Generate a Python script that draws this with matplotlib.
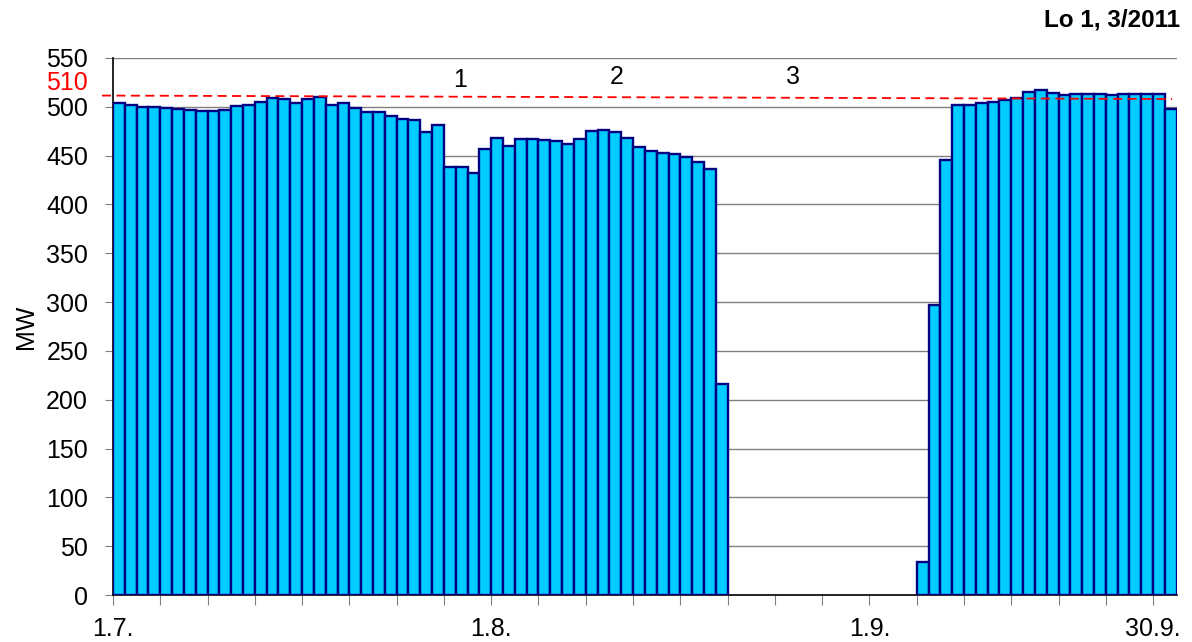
import numpy as np
import matplotlib
matplotlib.use("Agg")
import matplotlib.pyplot as plt

plt.rcParams['font.family'] = ['Liberation Sans', 'DejaVu Sans']

# daily output (MW), one bar per category, gap = outage (no bars)
mw_part1 = [504, 502, 500, 500, 499, 498, 497, 496, 496, 497,
            501, 502, 505, 509, 508, 504, 508, 510, 502, 504,
            499, 495, 495, 491, 487, 486, 474, 481, 438, 438,
            432, 457, 468, 460, 467, 467, 466, 465, 462, 467,
            475, 476, 474, 468, 459, 455, 453, 452, 449, 443,
            436, 216]
mw_gap = [np.nan] * 16
mw_part2 = [34, 297, 446, 502, 502, 504, 505, 507, 509, 515,
            517, 514, 512, 513, 513, 513, 512, 513, 513, 513,
            513, 498]
mw = np.array(mw_part1 + mw_gap + mw_part2, dtype=float)

x_labels = {0: '1.7.', 32: '1.8.', 64: '1.9.', 88: '30.9.'}
limit_x = [-0.93, 89.6]
limit_y = [511.5, 508.0]
markers = [('1', 29.4, 527), ('2', 42.6, 531), ('3', 57.5, 531)]

fig = plt.figure(figsize=(11.92, 6.42), dpi=100)
ax = fig.add_axes([0.0948, 0.0732, 0.8924, 0.8365])

pos = np.arange(len(mw))
ok = ~np.isnan(mw)
ax.bar(pos[ok], mw[ok], width=1.0, align='edge', color='#00CCFF',
       edgecolor='#000080', linewidth=1.7, zorder=3)

# 510 MW reference line
ax.plot(limit_x, limit_y, color='red', linestyle=(0, (5, 3)),
        linewidth=1.3, zorder=4, clip_on=False)

for txt, xx, yy in markers:
    ax.text(xx, yy, txt, fontsize=18, ha='center', va='center')

ax.set_xlim(0, 90)
ax.set_ylim(0, 550)
ax.set_yticks(np.arange(0, 551, 50))
ax.tick_params(axis='y', labelsize=18, length=6, color='#808080', pad=12)
# red 510 label in the tick label column
ax.text(-2.1, 524, '510', color='red', fontsize=18, ha='right', va='center')

ticks = np.arange(0, 89, 4)
ax.set_xticks(ticks)
ax.set_xticklabels([x_labels.get(t, '') for t in ticks])
ax.tick_params(axis='x', labelsize=18, length=7, color='#808080', pad=9)

ax.yaxis.grid(True, color='#808080', linewidth=1.0, zorder=0)
ax.set_axisbelow(True)
for s in ['top', 'right']:
    ax.spines[s].set_visible(False)
ax.spines['left'].set_linewidth(1.2)
ax.spines['bottom'].set_linewidth(1.2)

ax.set_ylabel('MW', fontsize=18, labelpad=6)
fig.text(0.99, 0.969, 'Lo 1, 3/2011', fontsize=17.5, fontweight='bold',
         ha='right', va='center')

fig.savefig('out.png', dpi=100)
